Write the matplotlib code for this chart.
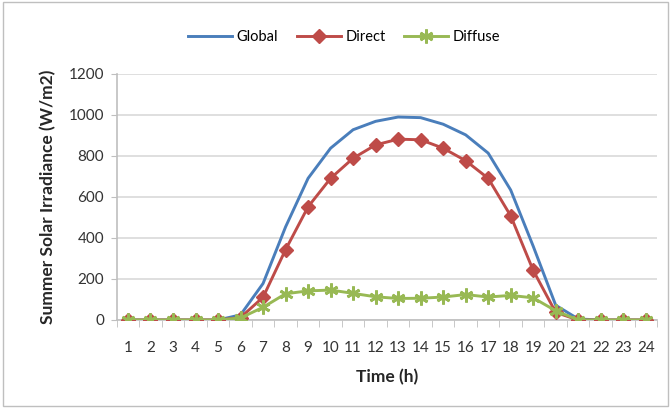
import matplotlib.pyplot as plt
from matplotlib.patches import Rectangle

plt.rcParams["font.family"] = ["Lato", "DejaVu Sans"]

hours = list(range(1, 25))
global_irr = [0, 0, 0, 0, 0, 25, 178, 454, 691, 838, 928, 969, 990, 987, 955,
              903, 814, 634, 360, 72, 5, 0, 0, 0]
direct_irr = [0, 0, 0, 0, 0, 12, 111, 343, 552, 691, 789, 854, 882, 879, 838,
              777, 691, 508, 242, 37, 0, 0, 0, 0]
diffuse_irr = [0, 0, 0, 0, 0, 10, 62, 128, 142, 146, 130, 113, 105, 106, 112,
               124, 112, 120, 108, 45, 0, 0, 0, 0]
y_ticks = [0, 200, 400, 600, 800, 1000, 1200]

fig = plt.figure(figsize=(6.72, 4.08), dpi=100)
ax = fig.add_axes([0.1737, 0.2157, 0.804, 0.603])

ax.plot(hours, global_irr, color="#4A7EBB", lw=2.1, label="Global", zorder=3)
ax.plot(hours, direct_irr, color="#BE4B48", lw=2.1, marker="D", ms=7,
        mfc="#BE4B48", mec="#BE4B48", label="Direct", zorder=4)
ax.plot(hours, diffuse_irr, color="#98B954", lw=2.1, marker=(6, 2, 0), ms=10,
        mew=2.0, mec="#98B954", label="Diffuse", zorder=5)

ax.set_xlim(0.5, 24.5)
ax.set_ylim(0, 1200)
ax.set_xticks(hours)
ax.set_xticks([h + 0.5 for h in range(0, 25)], minor=True)
ax.set_yticks(y_ticks)
ax.tick_params(axis="x", which="major", length=0, pad=15, labelsize=11,
               colors="#333333")
ax.tick_params(axis="x", which="minor", length=5, color="#BFBFBF")
ax.tick_params(axis="y", length=4, color="#BFBFBF", labelsize=11,
               labelcolor="#333333", pad=5)
ax.grid(axis="y", color="#D9D9D9", lw=1.2)
ax.set_axisbelow(True)
for side in ["top", "right"]:
    ax.spines[side].set_visible(False)
for side in ["left", "bottom"]:
    ax.spines[side].set_color("#BFBFBF")
    ax.spines[side].set_linewidth(1.2)

ax.set_xlabel("Time (h)", fontsize=12.5, fontweight="bold", color="#262626",
              labelpad=10)
ax.set_ylabel("Summer Solar Irradiance (W/m2)", fontsize=12.5,
              fontweight="bold", color="#262626", labelpad=9)

ax.legend(loc="lower center", bbox_to_anchor=(0.421, 1.07), ncol=3,
          frameon=False, fontsize=10.5, handlelength=3, columnspacing=1.3,
          handletextpad=0.3)

fig.patches.append(Rectangle((0.004, 0.006), 0.99, 0.988,
                             transform=fig.transFigure, fill=False,
                             edgecolor="#BFBFBF", lw=1))

fig.savefig("out.png", dpi=100)
